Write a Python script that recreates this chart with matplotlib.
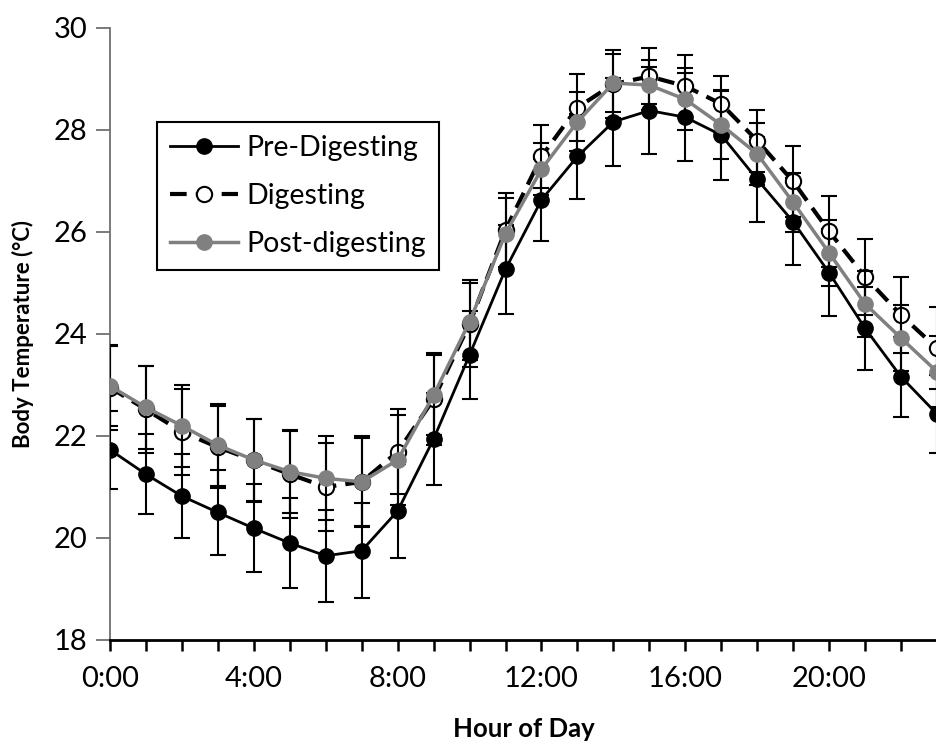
import matplotlib
matplotlib.use("Agg")
import matplotlib.pyplot as plt

plt.rcParams['font.family'] = ['Lato', 'DejaVu Sans']

hours = list(range(24))
tick_labels = ["0:00" if h == 0 else ("%d:00" % h if h % 4 == 0 else "") for h in hours]

pre = [21.73, 21.25, 20.82, 20.50, 20.19, 19.90, 19.65, 19.75, 20.53, 21.94, 23.59, 25.27,
       26.63, 27.48, 28.16, 28.38, 28.25, 27.90, 27.03, 26.20, 25.20, 24.11, 23.16, 22.43]
pre_err = [0.76, 0.78, 0.82, 0.83, 0.86, 0.89, 0.90, 0.93, 0.93, 0.91, 0.87, 0.87,
           0.80, 0.83, 0.86, 0.86, 0.86, 0.88, 0.83, 0.85, 0.85, 0.82, 0.78, 0.77]

dig = [22.95, 22.52, 22.08, 21.78, 21.52, 21.25, 21.00, 21.10, 21.69, 22.72, 24.20, 26.04,
       27.48, 28.44, 28.90, 29.05, 28.86, 28.51, 27.79, 26.99, 26.01, 25.12, 24.37, 23.72]
dig_err = [0.84, 0.85, 0.85, 0.80, 0.82, 0.85, 0.86, 0.87, 0.83, 0.90, 0.85, 0.72,
           0.62, 0.66, 0.66, 0.55, 0.61, 0.54, 0.61, 0.70, 0.70, 0.74, 0.75, 0.80]

post = [22.98, 22.56, 22.20, 21.82, 21.53, 21.30, 21.17, 21.10, 21.53, 22.80, 24.24, 25.97,
        27.23, 28.16, 28.92, 28.88, 28.60, 28.10, 27.53, 26.58, 25.59, 24.59, 23.92, 23.26]
post_err = [0.78, 0.82, 0.80, 0.80, 0.80, 0.82, 0.82, 0.89, 0.88, 0.79, 0.75, 0.69,
            0.51, 0.58, 0.57, 0.49, 0.61, 0.66, 0.60, 0.58, 0.65, 0.65, 0.65, 0.70]

series_labels = ['Pre-Digesting', 'Digesting', 'Post-digesting']

fig = plt.figure(figsize=(9.37, 7.42), dpi=100)
ax = fig.add_axes([0.1174, 0.1375, 0.8826, 0.8248])

eb = dict(ecolor='black', elinewidth=1.5, capsize=6, capthick=1.5)

c_pre = ax.errorbar(hours, pre, yerr=pre_err, color='black', lw=2, marker='o', ms=11,
                    mfc='black', mec='black', zorder=3, **eb)
c_dig = ax.errorbar(hours, dig, yerr=dig_err, color='black', lw=3, ls=(0, (4, 2.2)),
                    marker='o', ms=11, mfc='white', mec='black', mew=1.5, zorder=4, **eb)
c_post = ax.errorbar(hours, post, yerr=post_err, color='#808080', lw=2.5, marker='o', ms=11,
                     mfc='#808080', mec='#808080', zorder=5, **eb)

ax.set_xlim(0, 23)
ax.set_ylim(18, 30)
ax.set_xticks(hours)
ax.set_xticklabels(tick_labels)
ax.set_yticks(range(18, 31, 2))

ax.spines['top'].set_visible(False)
ax.spines['right'].set_visible(False)
ax.spines['left'].set_color('#707070')
ax.spines['left'].set_linewidth(1.3)
ax.spines['bottom'].set_color('black')
ax.spines['bottom'].set_linewidth(2)
ax.tick_params(axis='y', direction='out', length=10, width=1.3, color='#707070',
               labelsize=21, pad=6)
ax.tick_params(axis='x', direction='out', length=8, width=1.8, color='black',
               labelsize=21, pad=11)

ax.set_xlabel('Hour of Day', fontsize=18.5, fontweight='bold', labelpad=18)
ax.set_ylabel('Body Temperature (°C)', fontsize=16, fontweight='bold', labelpad=14)

# legend without the error bar glyphs
leg = ax.legend(handles=[c_pre[0], c_dig[0], c_post[0]], labels=series_labels,
                loc='upper left', bbox_to_anchor=(0.057, 0.846), borderaxespad=0,
                fontsize=20.5, fancybox=False, framealpha=1, edgecolor='black',
                handlelength=2.4, handletextpad=0.3, labelspacing=0.78, borderpad=0.45)
leg.get_frame().set_linewidth(1.5)

fig.savefig('out.png', dpi=100)
